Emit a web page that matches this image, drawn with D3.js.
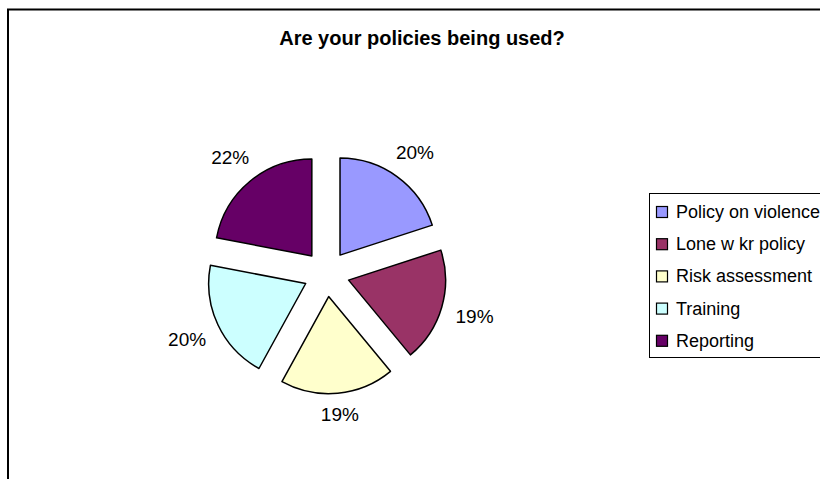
<!DOCTYPE html>
<html>
<head>
<meta charset="utf-8">
<script src="https://cdn.jsdelivr.net/npm/d3@7"></script>
<style>
  html, body { margin: 0; padding: 0; background: #fff; }
  svg { display: block; }
  text { font-family: "Liberation Sans", Arial, sans-serif; fill: #000; }
</style>
</head>
<body>
<svg id="chart" width="820" height="479"></svg>
<script>
// Survey answers: share of respondents per policy area (percent)
const categories = ["Policy on violence", "Lone w kr policy", "Risk assessment", "Training", "Reporting"];
const values = [20, 19, 19, 20, 22];
const colors = ["#9999FF", "#993366", "#FFFFCC", "#CCFFFF", "#660066"];
const title = "Are your policies being used?";

const svg = d3.select("#chart");
const W = 820, H = 479;

// Chart area frame (runs off the right and bottom edges)
svg.append("rect")
  .attr("x", 8).attr("y", 9.5)
  .attr("width", 840).attr("height", 500)
  .attr("fill", "#fff")
  .attr("stroke", "#000")
  .attr("stroke-width", 2);

// Title
svg.append("text")
  .attr("x", 422).attr("y", 45)
  .attr("text-anchor", "middle")
  .style("font-size", "20px")
  .style("font-weight", "bold")
  .text(title);

// Exploded pie
const cx = 326.5, cy = 273.7;
const radius = 97, explode = 23;

const pie = d3.pie().sort(null).value(d => d.value);
const arcs = pie(categories.map((c, i) => ({ name: c, value: values[i], color: colors[i] })));
const arc = d3.arc().innerRadius(0).outerRadius(radius);

const g = svg.append("g").attr("transform", `translate(${cx},${cy})`);

const mid = d => (d.startAngle + d.endAngle) / 2;

g.selectAll("path.slice")
  .data(arcs)
  .join("path")
  .attr("class", "slice")
  .attr("d", arc)
  .attr("transform", d => {
    const a = mid(d);
    return `translate(${explode * Math.sin(a)},${-explode * Math.cos(a)})`;
  })
  .attr("fill", d => d.data.color)
  .attr("stroke", "#000")
  .attr("stroke-width", 1.5)
  .attr("stroke-linejoin", "round");

// Percentage labels placed just outside each exploded slice
const total = d3.sum(values);
const fmt = v => Math.round(v / total * 100) + "%";
const labelGap = 133, halfW = 20, halfH = 7;

g.selectAll("text.pct")
  .data(arcs)
  .join("text")
  .attr("class", "pct")
  .attr("x", d => {
    const a = mid(d);
    const r = labelGap + halfW * Math.abs(Math.sin(a)) + halfH * Math.abs(Math.cos(a));
    return r * Math.sin(a);
  })
  .attr("y", d => {
    const a = mid(d);
    const r = labelGap + halfW * Math.abs(Math.sin(a)) + halfH * Math.abs(Math.cos(a));
    return -r * Math.cos(a);
  })
  .attr("text-anchor", "middle")
  .attr("dominant-baseline", "central")
  .style("font-size", "19px")
  .text(d => fmt(d.data.value));

// Legend
const legX = 649, legY = 193, legH = 164, rowH = 32.2;
const leg = svg.append("g");
leg.append("rect")
  .attr("x", legX + 0.5).attr("y", legY + 0.5)
  .attr("width", 200).attr("height", legH)
  .attr("fill", "#fff")
  .attr("stroke", "#000")
  .attr("stroke-width", 1);

const rows = leg.selectAll("g.row")
  .data(categories)
  .join("g")
  .attr("class", "row")
  .attr("transform", (d, i) => `translate(${legX + 7},${legY + 19 + i * rowH})`);

rows.append("rect")
  .attr("x", 0.5).attr("y", -5.5)
  .attr("width", 11).attr("height", 11)
  .attr("fill", (d, i) => colors[i])
  .attr("stroke", "#000")
  .attr("stroke-width", 1.2);

rows.append("text")
  .attr("x", 20).attr("y", 0)
  .attr("dominant-baseline", "central")
  .style("font-size", "18px")
  .text(d => d);
</script>
</body>
</html>
